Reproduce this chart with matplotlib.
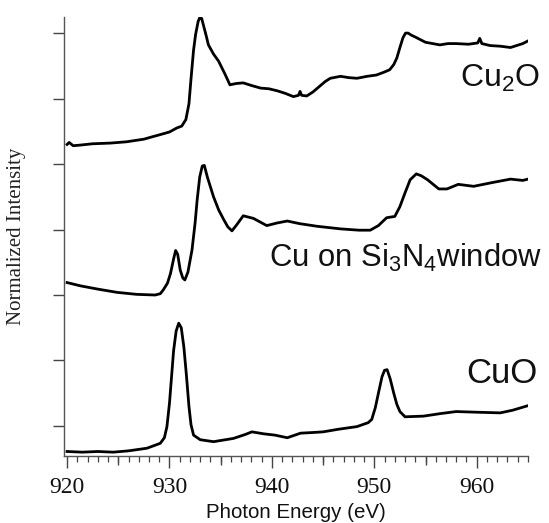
import matplotlib
matplotlib.use("Agg")
import matplotlib.pyplot as plt
from matplotlib.ticker import MultipleLocator, NullFormatter
import numpy as np

plt.rcParams["font.family"] = ["Liberation Serif", "DejaVu Serif"]
plt.rcParams["mathtext.fontset"] = "custom"
plt.rcParams["mathtext.rm"] = "Liberation Sans"
plt.rcParams["mathtext.default"] = "rm"

# Cu2O (top trace)
cu2o_e = [920.0, 920.2, 920.6, 921.3, 922.5, 924.2, 925.8, 927.5, 928.4, 929.1, 930.0, 930.7,
          931.2, 931.6, 931.9, 932.1, 932.35, 932.55, 932.8, 933.0, 933.15, 933.35, 933.6,
          933.8, 934.3, 934.8, 935.4, 935.9, 936.5, 937.2, 938.0, 938.9, 939.7, 940.5, 941.3,
          942.1, 942.6, 942.75, 942.9, 943.4, 944.0, 944.6, 945.2, 945.7, 946.7, 947.5, 948.3,
          949.3, 950.2, 950.9, 951.5, 951.9, 952.2, 952.5, 952.8, 953.05, 953.3, 953.6, 954.0,
          955.0, 956.4, 957.2, 958.0, 959.2, 960.1, 960.3, 960.5, 961.3, 962.3, 963.3, 964.5,
          965.0]
cu2o_i = [4.30, 4.33, 4.28, 4.29, 4.31, 4.32, 4.34, 4.38, 4.42, 4.45, 4.49, 4.55,
          4.58, 4.68, 4.92, 5.30, 5.74, 5.98, 6.18, 6.25, 6.22, 6.10, 5.95,
          5.82, 5.68, 5.57, 5.38, 5.21, 5.23, 5.24, 5.20, 5.16, 5.15, 5.12, 5.08,
          5.03, 5.05, 5.11, 5.05, 5.04, 5.10, 5.18, 5.26, 5.31, 5.34, 5.32, 5.31,
          5.34, 5.36, 5.40, 5.44, 5.52, 5.62, 5.78, 5.93, 6.00, 6.00, 5.97, 5.94,
          5.86, 5.82, 5.84, 5.84, 5.83, 5.85, 5.92, 5.84, 5.81, 5.80, 5.78, 5.84,
          5.88]

# Cu on Si3N4 window (middle trace)
cusin_e = [920.0, 921.3, 923.0, 924.9, 926.8, 928.6, 929.1, 929.4, 929.8, 930.1, 930.4, 930.6,
           930.8, 931.05, 931.3, 931.5, 931.8, 932.2, 932.5, 932.7, 932.95, 933.2, 933.4,
           933.7, 934.3, 934.8, 935.3, 935.7, 936.1, 936.6, 937.2, 938.2, 939.5, 940.5,
           941.5, 942.7, 944.4, 946.7, 948.5, 949.6, 950.4, 951.2, 952.0, 952.5, 953.0,
           953.5, 954.1, 954.6, 955.2, 956.3, 957.1, 958.2, 959.7, 961.6, 963.3, 964.5, 965.0]
cusin_i = [2.19, 2.14, 2.09, 2.04, 2.01, 2.00, 2.02, 2.08, 2.18, 2.33, 2.55, 2.68,
           2.62, 2.38, 2.26, 2.23, 2.35, 2.69, 3.10, 3.45, 3.80, 3.97, 3.98,
           3.80, 3.50, 3.30, 3.15, 3.04, 2.98, 3.08, 3.21, 3.17, 3.06, 3.10,
           3.13, 3.09, 3.05, 3.01, 2.99, 2.99, 3.06, 3.18, 3.20, 3.35, 3.56,
           3.76, 3.85, 3.82, 3.76, 3.62, 3.62, 3.69, 3.66, 3.72, 3.77, 3.75, 3.77]

# CuO (bottom trace)
cuo_e = [920.0, 921.5, 923.0, 924.5, 926.0, 927.8, 929.1, 929.5, 929.75, 930.0, 930.2, 930.4,
         930.65, 930.9, 931.15, 931.4, 931.65, 931.9, 932.1, 932.35, 933.0, 934.3, 936.25,
         937.4, 938.05, 939.2, 940.3, 941.5, 942.8, 944.0, 945.0, 946.5, 948.3, 949.4,
         949.75, 950.1, 950.4, 950.75, 951.0, 951.25, 951.55, 951.9, 952.2, 952.5, 953.0,
         954.8, 956.5, 958.0, 960.0, 962.3, 963.5, 965.0]
cuo_i = [-0.39, -0.40, -0.39, -0.40, -0.38, -0.34, -0.265, -0.18, -0.01, 0.35, 0.75, 1.15,
         1.45, 1.57, 1.50, 1.21, 0.78, 0.30, 0.02, -0.14, -0.21, -0.24, -0.19,
         -0.13, -0.09, -0.12, -0.14, -0.18, -0.11, -0.10, -0.09, -0.05, -0.01, 0.05,
         0.10, 0.28, 0.50, 0.75, 0.85, 0.86, 0.72, 0.50, 0.33, 0.22, 0.14,
         0.15, 0.19, 0.22, 0.21, 0.20, 0.24, 0.31]

labels = ["Cu$_2$O", "Cu on Si$_3$N$_4$window", "CuO"]
label_pos = [(966.2, 5.18), (966.4, 2.43), (965.9, 0.657)]
label_size = [23, 22.3, 25]

fig = plt.figure(figsize=(5.49, 5.23), dpi=100)
ax = fig.add_axes([0.1166, 0.1272, 0.845, 0.8408])

for e, i in [(cu2o_e, cu2o_i), (cusin_e, cusin_i), (cuo_e, cuo_i)]:
    ax.plot(e, i, color="black", linewidth=2.0, solid_joinstyle="round")

for txt, (x, y), fs in zip(labels, label_pos, label_size):
    ax.text(x, y, txt, ha="right", va="baseline", fontsize=fs,
            family="Liberation Sans", color="#111111")

ax.set_xlim(919.7, 965)
ax.set_ylim(-0.466, 6.25)
ax.spines["top"].set_visible(False)
ax.spines["right"].set_visible(False)
for s in ["left", "bottom"]:
    ax.spines[s].set_color("#555555")
    ax.spines[s].set_linewidth(1.0)

ax.set_yticks(np.arange(0, 7))
ax.yaxis.set_major_formatter(NullFormatter())
ax.tick_params(axis="y", direction="out", length=8, width=1.0, color="#444444")

ax.xaxis.set_major_locator(MultipleLocator(10))
ax.xaxis.set_minor_locator(MultipleLocator(1))
ax.tick_params(axis="x", which="major", direction="out", length=8.5, width=1.0,
               color="#444444", pad=6, labelsize=17, labelcolor="#111111")
ax.tick_params(axis="x", which="minor", direction="out", length=4.5, width=0.9, color="#444444")

# medium ticks at the 5 eV marks
sec = ax.secondary_xaxis("bottom")
sec.set_xticks([925, 935, 945, 955])
sec.xaxis.set_major_formatter(NullFormatter())
sec.tick_params(axis="x", direction="out", length=6.5, width=1.0, color="#444444")
sec.spines["bottom"].set_visible(False)

ax.set_xlabel("Photon Energy (eV)", family="Liberation Sans", fontsize=14.8, color="#111111")
ax.xaxis.set_label_coords(0.5, -0.105)
ax.xaxis.label.set_va("top")
ax.set_ylabel("Normalized Intensity", fontsize=15, color="#222222")
ax.yaxis.set_label_coords(-0.082, 0.5)

fig.savefig("out.png", dpi=100)
